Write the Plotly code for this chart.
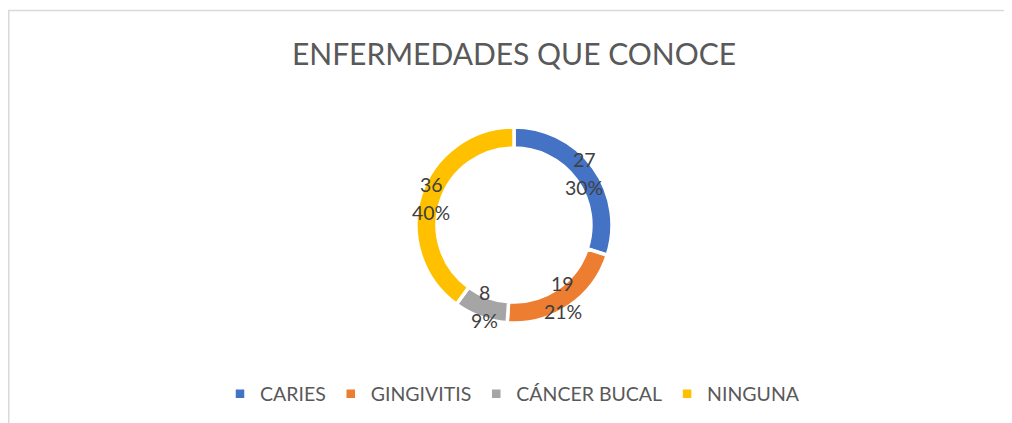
import math
import plotly.graph_objects as go

categories = ["CARIES", "GINGIVITIS", "CÁNCER BUCAL", "NINGUNA"]
values = [27, 19, 8, 36]
colors = ["#4472C4", "#ED7D31", "#A5A5A5", "#FFC000"]
title_text = "ENFERMEDADES QUE CONOCE"

W, H = 1012, 423
FONT = "Lato, 'Open Sans', sans-serif"
OFF = 8  # page body margin offset

# donut geometry (pixels in page coords, converted to figure coords)
cx, cy, R = 514 - OFF, 225 - OFF, 98
hole = 0.785

fig = go.Figure()
fig.add_trace(go.Pie(
    labels=categories,
    values=values,
    sort=False,
    direction="clockwise",
    rotation=0,
    hole=hole,
    marker=dict(colors=colors, line=dict(color="white", width=3.5)),
    textinfo="none",
    hoverinfo="label+value+percent",
    domain=dict(x=[(cx - R) / W, (cx + R) / W], y=[1 - (cy + R) / H, 1 - (cy - R) / H]),
    showlegend=True,
))

# data labels: value + percent at mid-angle on the ring
total = sum(values)
cum = 0
annotations = []
r_lab = R * (1 + hole) / 2 - 0.5
for v in values:
    mid = (cum + v / 2) / total * 2 * math.pi
    cum += v
    px = cx + r_lab * math.sin(mid)
    py = cy - r_lab * math.cos(mid)
    pct = round(v / total * 100)
    for txt, ys in ((f"{v}", 14), (f"{pct}%", -14)):
        annotations.append(dict(
            x=px / W, y=1 - py / H, xref="paper", yref="paper",
            text=txt, showarrow=False, yshift=ys,
            font=dict(family=FONT, size=19.5, color="#404040"),
            xanchor="center", yanchor="middle",
        ))

fig.update_layout(
    width=W, height=H,
    margin=dict(l=0, r=0, t=0, b=0),
    paper_bgcolor="white", plot_bgcolor="white",
    title=dict(text=title_text, x=(514 - OFF) / W, xanchor="center", y=1 - (54 - OFF) / H, yanchor="middle",
               font=dict(family=FONT, size=30, color="#595959")),
    legend=dict(orientation="h", x=(519.5 - OFF - 7) / W, xanchor="center", y=1 - (394 - OFF) / H,
                yanchor="middle",
                font=dict(family=FONT, size=19.5, color="#595959"), traceorder="normal"),
    annotations=annotations,
    shapes=[
        dict(type="line", xref="paper", yref="paper", x0=0, x1=1.05, y0=1 - 2.5 / H, y1=1 - 2.5 / H,
             line=dict(color="#D9D9D9", width=1.5)),
        dict(type="line", xref="paper", yref="paper", x0=0.75 / W, x1=0.75 / W, y0=-0.05, y1=1 - 2.5 / H,
             line=dict(color="#D9D9D9", width=1.5)),
    ],
)

fig.write_html("out.html")
